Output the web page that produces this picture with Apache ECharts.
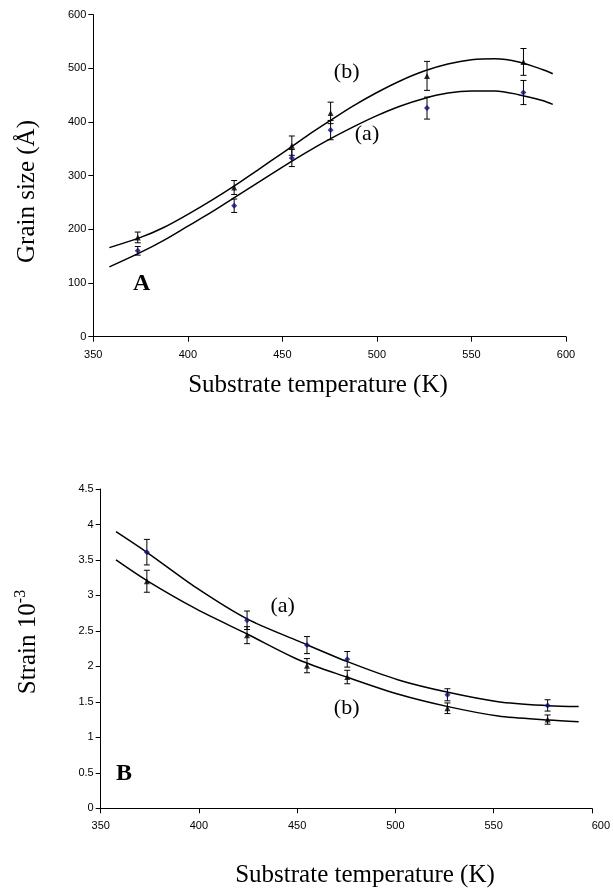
<!DOCTYPE html>
<html>
<head>
<meta charset="utf-8">
<script src="https://cdn.jsdelivr.net/npm/echarts@6/dist/echarts.min.js"></script>
<style>
  html, body { margin: 0; padding: 0; background: #fff; }
  #chart { width: 613px; height: 890px; }
</style>
</head>
<body>
<div id="chart"></div>
<script>
// Substrate temperatures (K) of the measured films
const tempK = [373.5, 424.5, 455, 475.5, 526.5, 577.5];

// Panel A: grain size (Å) with error bar half-widths
const grainA = [160, 244, 333, 385, 426, 455];
const grainAErr = [8, 12.5, 16, 18, 20.5, 22.5];
const grainB = [185, 278, 356, 417, 486, 512];
const grainBErr = [10, 13, 18, 20, 27, 25];

// Panel A: fitted trend curves [T, size]
const grainFitA = [[358.5, 130], [375, 157], [387.5, 180], [400, 206], [412.5, 232], [425, 260],
  [437.5, 288], [450, 316], [462.5, 343], [475, 368], [487.5, 391], [500, 412], [512.5, 430],
  [525, 444], [537.5, 454], [550, 458], [562.5, 458], [575, 451], [587.5, 440], [593, 433]];
const grainFitB = [[358.5, 166], [375, 185], [387.5, 204], [400, 228], [412.5, 254], [425, 282],
  [437.5, 312], [450, 342], [462.5, 373], [475, 402], [487.5, 430], [500, 455], [512.5, 477],
  [525, 495], [537.5, 508], [550, 516], [562.5, 518], [575, 512], [587.5, 498], [593, 490]];

// Panel B: strain (10^-3) with error bar half-widths
const strainA = [3.61, 2.65, 2.30, 2.10, 1.60, 1.45];
const strainAErr = [0.18, 0.13, 0.12, 0.11, 0.085, 0.08];
const strainB = [3.20, 2.44, 2.01, 1.85, 1.41, 1.25];
const strainBErr = [0.155, 0.12, 0.10, 0.095, 0.075, 0.065];

// Panel B: fitted trend curves [T, strain]
const strainFitA = [[357.8, 3.899], [373.5, 3.608], [398.6, 3.11], [424.5, 2.67], [451, 2.352],
  [475.6, 2.067], [501.6, 1.809], [526.8, 1.635], [552.3, 1.503], [577.8, 1.447], [593.3, 1.433]];
const strainFitB = [[357.8, 3.50], [373.5, 3.209], [398.6, 2.81], [424.5, 2.457], [451, 2.09],
  [475.6, 1.846], [501.6, 1.607], [526.8, 1.433], [552.3, 1.301], [577.8, 1.245], [593.3, 1.221]];

const xTicks = { min: 350, max: 600, interval: 50 };

const SERIF = '"Liberation Serif", "Times New Roman", serif';
const SANS = '"Liberation Sans", Arial, sans-serif';
const NAVY = '#0a0a80';

function pairs(xs, ys) { return xs.map((x, i) => [x, ys[i]]); }
function bars(xs, ys, es) { return xs.map((x, i) => [x, ys[i] - es[i], ys[i] + es[i]]); }

function errorBar(params, api) {
  const x = api.value(0);
  const lo = api.coord([x, api.value(1)]);
  const hi = api.coord([x, api.value(2)]);
  const w = 3;
  const st = { stroke: '#000', lineWidth: 1 };
  return {
    type: 'group',
    children: [
      { type: 'line', shape: { x1: lo[0], y1: lo[1], x2: hi[0], y2: hi[1] }, style: st },
      { type: 'line', shape: { x1: lo[0] - w, y1: lo[1], x2: lo[0] + w, y2: lo[1] }, style: st },
      { type: 'line', shape: { x1: hi[0] - w, y1: hi[1], x2: hi[0] + w, y2: hi[1] }, style: st }
    ]
  };
}

function xAxisFor(gridIndex, shiftLast) {
  const axisLabel = { color: '#000', fontFamily: SANS, fontSize: 11, margin: 13 };
  if (shiftLast) {
    // the last label of the lower panel sits a little right of its tick
    axisLabel.formatter = v => (v === 600 ? '{e|600}' : String(v));
    axisLabel.rich = { e: { padding: [0, 0, 0, 18], fontFamily: SANS, fontSize: 11, color: '#000' } };
    axisLabel.margin = 12;
  }
  return {
    type: 'value', gridIndex, ...xTicks,
    axisLine: { lineStyle: { color: '#000', width: 1 } },
    axisTick: { show: true, length: 5, lineStyle: { color: '#000' } },
    axisLabel,
    splitLine: { show: false }
  };
}
function yAxisFor(gridIndex, min, max, interval) {
  return {
    type: 'value', gridIndex, min, max, interval,
    axisLine: { show: true, lineStyle: { color: '#000', width: 1 } },
    axisTick: { show: true, length: 5, lineStyle: { color: '#000' } },
    axisLabel: { color: '#000', fontFamily: SANS, fontSize: 11, margin: 7 },
    splitLine: { show: false }
  };
}

function fitLine(data, xi, yi) {
  return {
    type: 'line', xAxisIndex: xi, yAxisIndex: yi, data, smooth: 0.3,
    showSymbol: false, symbol: 'none', z: 2,
    lineStyle: { color: '#000', width: 1.5 }
  };
}
function errSeries(data, xi, yi) {
  return { type: 'custom', xAxisIndex: xi, yAxisIndex: yi, data, renderItem: errorBar, z: 3 };
}
function points(data, xi, yi, symbol, color, size) {
  return {
    type: 'scatter', xAxisIndex: xi, yAxisIndex: yi, data, symbol, symbolSize: size, z: 4,
    itemStyle: { color }
  };
}

function label(text, x, y, size, bold) {
  return {
    type: 'text', x, y, z: 10,
    style: {
      text, fill: '#000', font: (bold ? 'bold ' : '') + size + 'px ' + SERIF,
      align: 'center', verticalAlign: 'middle'
    }
  };
}

const chart = echarts.init(document.getElementById('chart'), null, { renderer: 'canvas' });
chart.setOption({
  animation: false,
  backgroundColor: '#fff',
  grid: [
    { left: 93.3, right: 47, top: 14.7, bottom: 553.3 },
    { left: 100.7, right: 18.7, top: 489, bottom: 81.7 }
  ],
  xAxis: [xAxisFor(0, false), xAxisFor(1, true)],
  yAxis: [yAxisFor(0, 0, 600, 100), yAxisFor(1, 0, 4.5, 0.5)],
  series: [
    fitLine(grainFitA, 0, 0),
    fitLine(grainFitB, 0, 0),
    errSeries(bars(tempK, grainA, grainAErr), 0, 0),
    errSeries(bars(tempK, grainB, grainBErr), 0, 0),
    points(pairs(tempK, grainA), 0, 0, 'diamond', NAVY, 6),
    points(pairs(tempK, grainB), 0, 0, 'triangle', '#000', 6),

    fitLine(strainFitA, 1, 1),
    fitLine(strainFitB, 1, 1),
    errSeries(bars(tempK, strainA, strainAErr), 1, 1),
    errSeries(bars(tempK, strainB, strainBErr), 1, 1),
    points(pairs(tempK, strainA), 1, 1, 'diamond', NAVY, 6),
    points(pairs(tempK, strainB), 1, 1, 'triangle', '#000', 6)
  ],
  graphic: [
    // axis titles
    {
      type: 'text', x: 27, y: 191.5, rotation: Math.PI / 2,
      style: { text: 'Grain size (Å)', fill: '#000', font: '25px ' + SERIF, align: 'center', verticalAlign: 'middle' }
    },
    label('Substrate temperature (K)', 318, 385, 25, false),
    {
      type: 'text', x: 27, y: 642, rotation: Math.PI / 2,
      style: {
        text: '{b|Strain 10}{s|-3}', align: 'center', verticalAlign: 'middle',
        rich: {
          b: { fill: '#000', font: '25px ' + SERIF, verticalAlign: 'bottom' },
          s: { fill: '#000', font: '16px ' + SERIF, verticalAlign: 'top', padding: [0, 0, 12, 0] }
        }
      }
    },
    label('Substrate temperature (K)', 365, 875, 25, false),
    // curve and panel tags
    label('(b)', 346.7, 72.3, 22, false),
    label('(a)', 367, 134, 22, false),
    label('A', 141.7, 283.3, 24, true),
    label('(a)', 282.7, 606.7, 22, false),
    label('(b)', 346.7, 708.3, 22, false),
    label('B', 124, 774, 24, true)
  ]
});
</script>
</body>
</html>
